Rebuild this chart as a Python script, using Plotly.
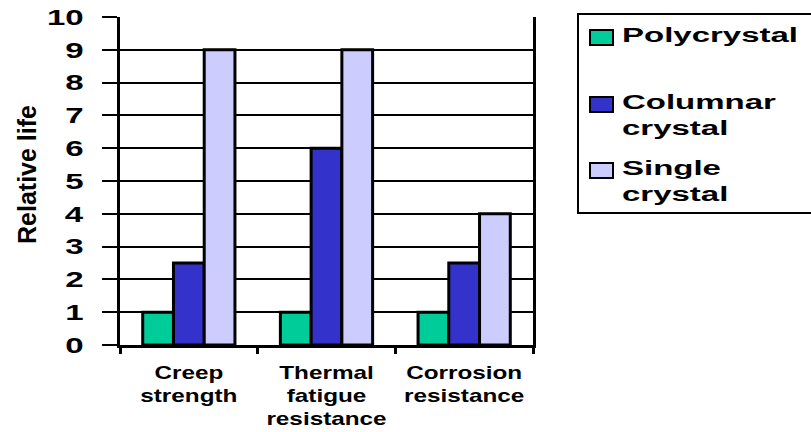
import plotly.graph_objects as go

# --- data -------------------------------------------------------------
categories = ["Creep<br>strength", "Thermal<br>fatigue<br>resistance", "Corrosion<br>resistance"]
series_names = ["Polycrystal", "Columnar<br>crystal", "Single<br>crystal"]
polycrystal = [1, 1, 1]
columnar = [2.5, 6, 2.5]
single_crystal = [9, 9, 4]
series_values = [polycrystal, columnar, single_crystal]
series_colors = ["#00CC99", "#3333CC", "#CCCCFF"]
y_ticks = list(range(0, 11))
y_title = "Relative life"

# --- page geometry (pixels) -------------------------------------------
W, H = 811, 432
L, R, T, B = 120, 278, 17, 87
PW, PH = W - L - R, H - T - B


def px_x(x):
    return (x - L) / PW


def px_y(y):
    return (H - B - y) / PH


FONT = "Liberation Sans, Arial, sans-serif"

fig = go.Figure()
for name, vals, col in zip(series_names, series_values, series_colors):
    fig.add_trace(go.Bar(
        x=categories, y=vals, name=name.replace("<br>", " "),
        marker=dict(color=col, line=dict(color="black", width=3)),
        showlegend=False,
    ))

# hand-built legend: framed box, swatches and labels
shapes = [dict(type="rect", xref="paper", yref="paper",
               x0=px_x(578), x1=px_x(840), y0=px_y(14), y1=px_y(213),
               line=dict(color="black", width=2), fillcolor="white", layer="below")]
annotations = [dict(text="<b>%s</b>" % y_title, xref="paper", yref="paper",
                    x=px_x(27), y=px_y(175), textangle=-90, showarrow=False,
                    font=dict(family=FONT, size=25, color="black"),
                    xanchor="center", yanchor="middle")]
swatch_tops = [30, 97, 163]
for name, col, top in zip(series_names, series_colors, swatch_tops):
    shapes.append(dict(type="rect", xref="paper", yref="paper",
                       x0=px_x(590), x1=px_x(613), y0=px_y(top), y1=px_y(top + 15),
                       line=dict(color="black", width=2), fillcolor=col))
    annotations.append(dict(text="<b>%s</b>" % name, xref="paper", yref="paper",
                            x=px_x(621), y=px_y(top - 7), showarrow=False, align="left",
                            xanchor="left", yanchor="top", borderpad=0,
                            font=dict(family=FONT, size=20, color="black")))

fig.update_layout(
    width=W, height=H,
    margin=dict(l=L, r=R, t=T, b=B, pad=0, autoexpand=False),
    paper_bgcolor="white", plot_bgcolor="white",
    barmode="group", bargap=0.33, bargroupgap=0,
    shapes=shapes, annotations=annotations,
    showlegend=False,
    font=dict(family=FONT, color="black"),
)
fig.update_xaxes(
    automargin=False,
    showline=True, linecolor="black", linewidth=3, mirror=False,
    ticks="outside", tickson="boundaries", ticklen=6, tickwidth=3, tickcolor="black",
    ticklabelstandoff=9,
    tickfont=dict(family=FONT, size=18, color="black", weight="bold"),
    showgrid=False,
)
fig.update_yaxes(
    automargin=False,
    range=[0, 10], tickvals=y_ticks,
    showline=True, linecolor="black", linewidth=3, mirror=True,
    ticks="outside", ticklen=15, tickwidth=2, tickcolor="black",
    ticklabelstandoff=14,
    tickfont=dict(family=FONT, size=22, color="black", weight="bold"),
    showgrid=True, gridcolor="black", gridwidth=2, zeroline=False,
)

# widen the bold lettering horizontally around a chosen anchor
post = """
var gd = document.getElementById('{plot_id}');
function stretch(sel, k, origin) {
  gd.querySelectorAll(sel).forEach(function (t) {
    var g = document.createElementNS('http://www.w3.org/2000/svg', 'g');
    t.parentNode.insertBefore(g, t);
    g.appendChild(t);
    var b = g.getBBox();
    var ox = origin === 'start' ? b.x : (origin === 'end' ? b.x + b.width : b.x + b.width / 2);
    g.setAttribute('transform', 'translate(' + ox + ',0) scale(' + k + ',1) translate(' + (-ox) + ',0)');
  });
}
stretch('g.ytick text', 1.5, 'end');
stretch('g.xtick text', 1.35, 'middle');
stretch('g.annotation[data-index="1"] text, g.annotation[data-index="2"] text, g.annotation[data-index="3"] text', 1.65, 'start');
"""

fig.write_html("out.html", post_script=post)
